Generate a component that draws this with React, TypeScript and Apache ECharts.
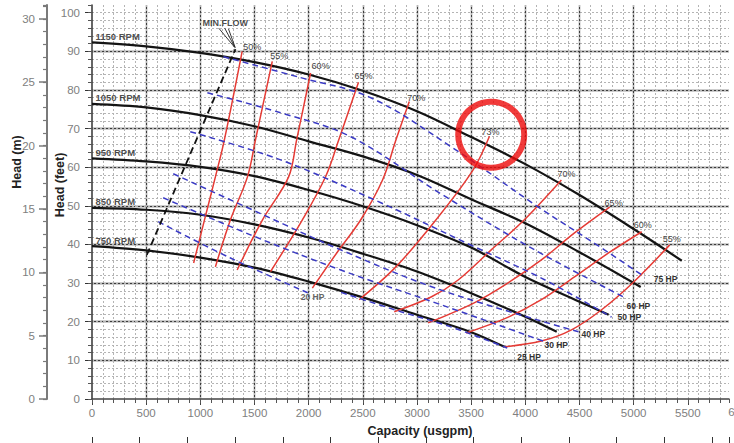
import { useEffect, useRef } from 'react';
import * as echarts from 'echarts';

const FONT = "'Liberation Sans', Arial, Helvetica, sans-serif";

// ---- axis ticks ----
const xTickValues = [0, 500, 1000, 1500, 2000, 2500, 3000, 3500, 4000, 4500, 5000, 5500];
const ftTickValues = [0, 10, 20, 30, 40, 50, 60, 70, 80, 90, 100];
const mTickValues = [0, 5, 10, 15, 20, 25, 30];

// ---- speed curves: [capacity usgpm, head ft] ----
const rpmNames = ['1150 RPM', '1050 RPM', '950 RPM', '850 RPM', '750 RPM'];
const rpm1150 = [[0, 92.3], [500, 91.3], [1000, 89.6], [1500, 87.2], [2000, 84.0], [2500, 79.8], [3000, 74.5], [3500, 67.8], [4000, 60.8], [4500, 52.8], [5000, 44.0], [5444, 35.8]];
const rpm1050 = [[0, 76.4], [500, 75.5], [1000, 73.5], [1500, 70.6], [2000, 66.7], [2500, 62.8], [3000, 58.0], [3500, 51.7], [4000, 45.5], [4500, 38.0], [5065, 29.0]];
const rpm950 = [[0, 62.3], [500, 61.5], [1000, 60.1], [1500, 57.7], [2000, 54.1], [2500, 49.9], [3000, 45.0], [3500, 39.2], [4000, 31.6], [4500, 25.2], [4769, 21.8]];
const rpm850 = [[0, 49.5], [500, 49.0], [1000, 47.7], [1500, 45.2], [2000, 41.8], [2500, 37.6], [3000, 33.0], [3500, 27.4], [4000, 21.3], [4290, 17.4]];
const rpm750 = [[0, 39.6], [500, 38.5], [1000, 36.6], [1500, 34.0], [2000, 30.4], [2500, 26.3], [3000, 21.8], [3500, 17.3], [3806, 13.5]];

// ---- minimum flow line ----
const minFlow = [[506, 37.3], [1324, 90.6]];
const minFlowArrows = [
  [[1170, 96.0], [1318, 91.0]],
  [[1225, 96.0], [1320, 91.0]],
  [[1260, 95.8], [1322, 91.0]],
];
const minFlowText = 'MIN.FLOW';
const minFlowTextAt = [1231, 97.3];

// ---- efficiency curves ----
const effNames = ['50%', '55%', '60%', '65%', '70%', '73%', '70%', '65%', '60%', '55%'];
const eff50 = [[938, 35.2], [1046, 47.2], [1139, 57.5], [1222, 67.1], [1386, 90.0]];
const eff55 = [[1139, 34.2], [1278, 46.4], [1435, 57.5], [1509, 67.1], [1664, 87.4]];
const eff60 = [[1340, 33.4], [1574, 46.4], [1815, 57.5], [1889, 67.1], [2018, 84.4]];
const eff65 = [[1648, 33.0], [1942, 46.4], [2157, 57.6], [2278, 67.1], [2460, 82.0]];
const eff70 = [[2034, 28.7], [2259, 37.8], [2481, 46.4], [2682, 56.7], [2806, 67.1], [2929, 77.0]];
const eff73 = [[2466, 25.7], [2805, 34.2], [3176, 46.4], [3518, 59.3], [3669, 68.0]];
const eff70r = [[2790, 22.6], [3130, 26.4], [3380, 30.8], [3685, 38.6], [3991, 46.4], [4333, 56.7]];
const eff65r = [[3102, 19.7], [3528, 24.9], [3843, 30.1], [4148, 36.0], [4454, 43.0], [4778, 49.7]];
const eff60r = [[3454, 17.1], [3843, 21.2], [4148, 25.7], [4454, 31.6], [4768, 37.8], [5074, 43.3]];
const eff55r = [[3806, 13.5], [4148, 15.0], [4426, 17.9], [4704, 23.1], [5000, 30.3], [5333, 39.9]];

// ---- power curves ----
const hpNames = ['75 HP', '60 HP', '50 HP', '40 HP', '30 HP', '25 HP', '20 HP'];
const hp75 = [[1213, 88.6], [1926, 83.2], [2574, 78.0], [3315, 65.3], [4120, 49.7], [4704, 39.1], [5102, 31.6]];
const hp60 = [[1065, 79.3], [1741, 74.1], [2389, 67.9], [3222, 53.1], [4055, 39.1], [4907, 26.4]];
const hp50 = [[907, 69.2], [1741, 61.9], [2667, 50.8], [3500, 39.8], [4148, 31.3], [4796, 21.2]];
const hp40 = [[750, 58.3], [1556, 48.0], [2296, 38.6], [3222, 28.2], [4491, 17.4]];
const hp30 = [[657, 52.1], [1463, 42.5], [2296, 33.4], [3222, 24.4], [4213, 14.5]];
const hp25 = [[2300, 27.6], [2852, 22.6], [3300, 18.8], [3833, 13.2]];
const hp20 = [[611, 45.9], [1278, 36.5], [1991, 27.5]];

// highlighted operating point (red ring)
const highlightPoint = [3685, 68.4];

const effLabelOffsets = [[-7, -4], [-10, -5], [-7, -7], [-12, -6], [-10, -4], [-16, -4], [-12, -6], [-13, -4], [-16, -7], [-15, -6]];
const hpLabelOffsets = [[1, 2], [-5, 9], [-2, 0], [-5, 2], [-12, 2], [2, 9], [-15, 4]];

function buildOption() {
  const speedCurves = [rpm1150, rpm1050, rpm950, rpm850, rpm750];
  const effCurves = [eff50, eff55, eff60, eff65, eff70, eff73, eff70r, eff65r, eff60r, eff55r];
  const hpCurves = [hp75, hp60, hp50, hp40, hp30, hp25, hp20];

  const series: any[] = [];

  speedCurves.forEach((d, i) => {
    series.push({
      type: 'line', name: rpmNames[i], data: d, showSymbol: false, smooth: 0.35,
      lineStyle: { color: '#141414', width: 2.2 }, z: 3, silent: true,
    });
  });

  effCurves.forEach((d, i) => {
    series.push({
      type: 'line', data: d, showSymbol: false, smooth: 0.35,
      lineStyle: { color: '#e53b35', width: 1.5 }, z: 4, silent: true,
      endLabel: { show: true, formatter: effNames[i], offset: effLabelOffsets[i], fontSize: 9, color: '#444', fontFamily: FONT },
    });
  });

  hpCurves.forEach((d, i) => {
    series.push({
      type: 'line', data: d, showSymbol: false, smooth: 0.35,
      lineStyle: { color: '#3a3ac4', width: 1.5, type: [6, 4] }, z: 5, silent: true,
      endLabel: {
        show: true, formatter: hpNames[i], offset: hpLabelOffsets[i], fontSize: 8.5, fontWeight: 'bold',
        color: i === 6 ? '#666' : '#333', fontFamily: FONT,
      },
    });
  });

  series.push({
    type: 'line', data: minFlow, showSymbol: false,
    lineStyle: { color: '#111', width: 1.8, type: [7, 4] }, z: 6, silent: true,
  });
  minFlowArrows.forEach((d) => {
    series.push({ type: 'line', data: d, showSymbol: false, lineStyle: { color: '#222', width: 0.9 }, z: 6, silent: true });
  });

  series.push({
    type: 'scatter', symbolSize: 1, itemStyle: { color: 'rgba(0,0,0,0)' }, z: 7, silent: true,
    data: speedCurves.map((d, i) => ({ value: d[0], label: { formatter: rpmNames[i] } })),
    label: { show: true, position: 'right', distance: 0, offset: [3, -6], fontSize: 9.5, fontWeight: 'bold', color: '#222', fontFamily: FONT },
  });
  series.push({
    type: 'scatter', symbolSize: 1, itemStyle: { color: 'rgba(0,0,0,0)' }, z: 7, silent: true,
    data: [{ value: minFlowTextAt, label: { formatter: minFlowText } }],
    label: { show: true, position: 'inside', fontSize: 9, fontWeight: 'bold', color: '#222', fontFamily: FONT },
  });

  series.push({
    type: 'scatter', data: [highlightPoint], symbol: 'circle', symbolSize: 66, z: 10, silent: true,
    itemStyle: { color: 'rgba(0,0,0,0)', borderColor: '#ee0a0a', borderWidth: 6 },
  });

  const plain = (v: number) => String(v);
  const axisLabelStyle = { color: '#808080', fontSize: 11.5, fontFamily: FONT, formatter: plain };

  return {
    animation: false,
    backgroundColor: '#fff',
    grid: { left: 92, top: 5, width: 637, height: 394, containLabel: false },
    xAxis: [
      {
        type: 'value', min: 0, max: 5880, interval: 500, position: 'bottom',
        axisLine: { show: true, onZero: false, lineStyle: { color: '#444', width: 1.5 } },
        axisTick: { show: true, length: 6, customValues: xTickValues, lineStyle: { color: '#444' } },
        axisLabel: { ...axisLabelStyle, margin: 8, customValues: xTickValues },
        splitLine: { show: true, showMinLine: false, showMaxLine: false, lineStyle: { color: '#3c3c3c', width: 1.3 } },
      },
      {
        type: 'value', min: 0, max: 5880, interval: 100, position: 'bottom',
        axisLine: { show: false, onZero: false }, axisLabel: { show: false },
        axisTick: { show: true, length: 4, lineStyle: { color: '#555' } },
        splitLine: { show: true, showMinLine: false, showMaxLine: false, lineStyle: { color: '#b4b4b4', width: 1, type: [2, 2] } },
      },
      {
        type: 'value', min: 0, max: 1335.5, interval: 100, position: 'bottom', offset: 45,
        axisLine: { show: true, onZero: false, lineStyle: { color: '#444', width: 1 } }, axisLabel: { show: false },
        axisTick: { show: true, inside: true, length: 7, lineStyle: { color: '#333', width: 1 } },
        splitLine: { show: false },
      },
    ],
    yAxis: [
      {
        type: 'value', min: 0, max: 102, interval: 10, position: 'left',
        axisLine: { show: true, onZero: false, lineStyle: { color: '#333', width: 1.5 } },
        axisTick: { show: true, length: 7, customValues: ftTickValues, lineStyle: { color: '#333' } },
        axisLabel: { ...axisLabelStyle, margin: 12, customValues: ftTickValues },
        splitLine: { show: true, showMinLine: false, showMaxLine: false, lineStyle: { color: '#3c3c3c', width: 1.3 } },
      },
      {
        type: 'value', min: 0, max: 102, interval: 2, position: 'left',
        axisLine: { show: false, onZero: false }, axisLabel: { show: false },
        axisTick: { show: true, length: 4, lineStyle: { color: '#555' } },
        splitLine: { show: true, showMinLine: false, showMaxLine: false, lineStyle: { color: '#b4b4b4', width: 1, type: [2, 2] } },
      },
      {
        type: 'value', min: 0, max: 31.09, interval: 5, position: 'left', offset: 45,
        axisLine: { show: true, onZero: false, lineStyle: { color: '#7a7a7a', width: 2 } },
        axisTick: { show: true, length: 8, customValues: mTickValues, lineStyle: { color: '#7a7a7a', width: 1.5 } },
        axisLabel: { ...axisLabelStyle, margin: 12, customValues: mTickValues },
        splitLine: { show: false },
      },
      {
        type: 'value', min: 0, max: 31.09, interval: 1, position: 'left', offset: 45,
        axisLine: { show: false, onZero: false }, axisLabel: { show: false },
        axisTick: { show: true, length: 4, lineStyle: { color: '#7a7a7a', width: 1.2 } },
        splitLine: { show: false },
      },
    ],
    graphic: [
      { type: 'text', x: 17, y: 162, rotation: Math.PI / 2, style: { text: 'Head (m)', font: `bold 12.5px ${FONT}`, fill: '#222', align: 'center', verticalAlign: 'middle' } },
      { type: 'text', x: 60, y: 185, rotation: Math.PI / 2, style: { text: 'Head (feet)', font: `bold 12.5px ${FONT}`, fill: '#222', align: 'center', verticalAlign: 'middle' } },
      { type: 'text', x: 420, y: 431, style: { text: 'Capacity (usgpm)', font: `bold 12.5px ${FONT}`, fill: '#222', align: 'center', verticalAlign: 'middle' } },
      { type: 'text', x: 741, y: 412, style: { text: '6000', font: `11.5px ${FONT}`, fill: '#808080', align: 'center', verticalAlign: 'middle' } },
    ],
    series,
  };
}

export default function App() {
  const ref = useRef<HTMLDivElement>(null);
  useEffect(() => {
    if (!ref.current) return;
    const chart = echarts.init(ref.current, undefined, { renderer: 'svg' });
    chart.setOption(buildOption() as any);
    return () => chart.dispose();
  }, []);
  return (
    <div style={{ position: 'fixed', left: 0, top: 0, width: 734, height: 443, overflow: 'hidden', background: '#fff' }}>
      <div ref={ref} style={{ width: 760, height: 470 }} />
    </div>
  );
}
